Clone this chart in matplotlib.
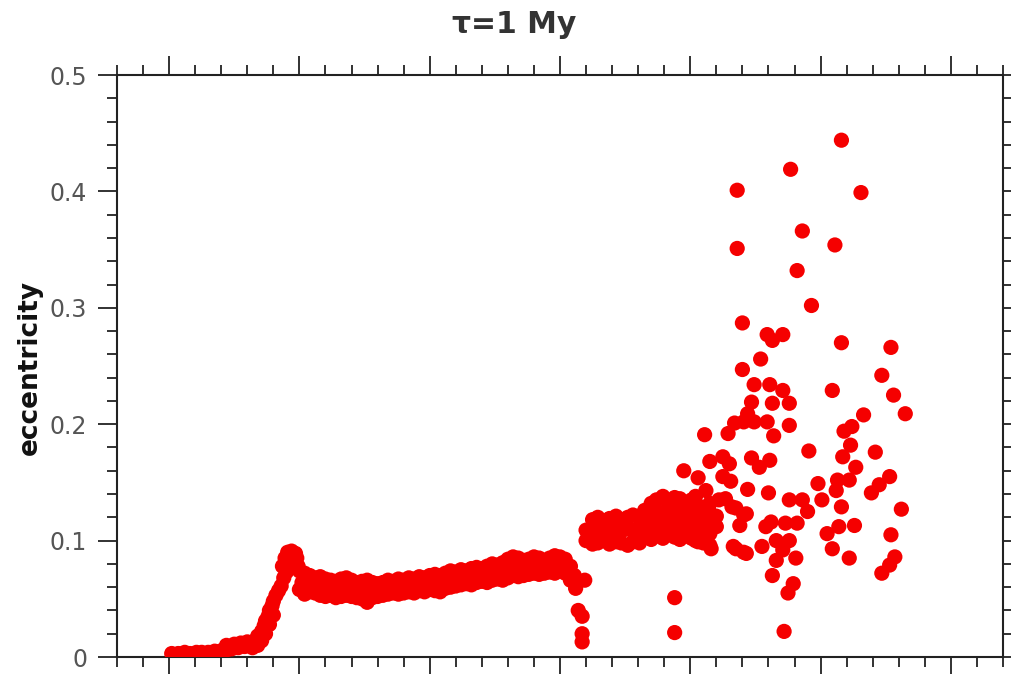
import matplotlib
matplotlib.use("Agg")
import matplotlib.pyplot as plt
from matplotlib.ticker import MultipleLocator, FuncFormatter

# ---- orbital eccentricity samples, grouped by region ----
# quiet inner region
low_x = [1.02, 1.07, 1.12, 1.16, 1.21, 1.25, 1.30, 1.35, 1.39, 1.44, 1.48, 1.53,
         1.58, 1.62, 1.44, 1.50, 1.55, 1.60]
low_e = [0.003, 0.003, 0.004, 0.003, 0.004, 0.004, 0.004, 0.005, 0.005, 0.006,
         0.007, 0.008, 0.009, 0.010, 0.010, 0.011, 0.012, 0.013]

# steep rise
rise_x = [1.64, 1.66, 1.68, 1.71, 1.73, 1.74, 1.76, 1.77, 1.79, 1.80, 1.82, 1.84,
          1.86, 1.68, 1.71, 1.74, 1.77, 1.80]
rise_e = [0.008, 0.014, 0.018, 0.022, 0.027, 0.031, 0.035, 0.040, 0.044, 0.048,
          0.053, 0.057, 0.061, 0.010, 0.014, 0.020, 0.028, 0.036]

# local peak
peak_x = [1.87, 1.89, 1.91, 1.94, 1.97, 1.98, 1.90, 1.93, 1.99, 1.88]
peak_e = [0.078, 0.085, 0.090, 0.091, 0.089, 0.085, 0.073, 0.079, 0.078, 0.068]

# slowly rising band
band_x = [2.00, 2.04, 2.08, 2.12, 2.16, 2.20, 2.24, 2.28, 2.32, 2.36, 2.40, 2.44,
          2.48, 2.52, 2.56, 2.60, 2.64, 2.68, 2.72, 2.76, 2.80, 2.84, 2.88, 2.92,
          2.96, 3.00, 3.04, 3.08, 3.12, 3.16, 3.20, 3.24, 3.28, 3.32, 3.36, 3.40,
          3.44, 3.48, 3.52, 3.56, 3.60, 3.64, 3.68, 3.72, 3.76, 3.80, 3.84, 3.88,
          3.92, 3.96, 4.00, 4.04]
band_top = [0.074, 0.072, 0.070, 0.068, 0.069, 0.067, 0.066, 0.065, 0.067, 0.068,
            0.066, 0.064, 0.065, 0.066, 0.064, 0.063, 0.064, 0.066, 0.065, 0.067,
            0.066, 0.068, 0.067, 0.069, 0.068, 0.070, 0.071, 0.070, 0.072, 0.074,
            0.073, 0.075, 0.074, 0.076, 0.077, 0.076, 0.078, 0.080, 0.079, 0.081,
            0.084, 0.086, 0.085, 0.083, 0.084, 0.086, 0.085, 0.083, 0.085, 0.087,
            0.086, 0.084]
band_bot = [0.058, 0.054, 0.056, 0.055, 0.053, 0.052, 0.053, 0.051, 0.052, 0.053,
            0.052, 0.051, 0.050, 0.047, 0.051, 0.052, 0.053, 0.054, 0.055, 0.054,
            0.055, 0.056, 0.055, 0.057, 0.056, 0.058, 0.057, 0.056, 0.059, 0.060,
            0.061, 0.062, 0.063, 0.062, 0.064, 0.065, 0.064, 0.066, 0.067, 0.066,
            0.068, 0.070, 0.069, 0.070, 0.071, 0.072, 0.071, 0.072, 0.073, 0.072,
            0.074, 0.072]
band_mid_x = [2.02, 2.10, 2.18, 2.26, 2.34, 2.42, 2.50, 2.58, 2.66, 2.74, 2.82,
              2.90, 2.98, 3.06, 3.14, 3.22, 3.30, 3.38, 3.46, 3.54, 3.62, 3.70,
              3.78, 3.86, 3.94, 4.02]
band_mid_e = [0.064, 0.062, 0.060, 0.059, 0.060, 0.058, 0.057, 0.058, 0.059, 0.060,
              0.061, 0.062, 0.063, 0.064, 0.066, 0.068, 0.069, 0.071, 0.072, 0.074,
              0.076, 0.077, 0.078, 0.078, 0.079, 0.079]

# sharp drop at the outer edge of the band
edge_x = [4.08, 4.08, 4.11, 4.12, 4.19, 4.14, 4.17, 4.17, 4.17]
edge_e = [0.078, 0.066, 0.070, 0.059, 0.066, 0.040, 0.035, 0.020, 0.013]

# crowded cluster beyond the gap
clus_x = [4.20, 4.25, 4.29, 4.34, 4.38, 4.43, 4.47, 4.52, 4.56, 4.61,
          4.20, 4.25, 4.29, 4.34, 4.38, 4.43, 4.47, 4.52, 4.56, 4.61,
          4.25, 4.29, 4.34, 4.38, 4.43, 4.47, 4.52, 4.56, 4.61,
          4.65, 4.70, 4.74, 4.79, 4.83, 4.88, 4.92, 4.97, 5.01, 5.06, 5.10, 5.15,
          4.65, 4.70, 4.74, 4.79, 4.83, 4.88, 4.92, 4.97, 5.01, 5.06, 5.10, 5.15,
          4.65, 4.70, 4.74, 4.79, 4.83, 4.88, 4.92, 4.97, 5.01, 5.06, 5.10, 5.15,
          4.65, 4.70, 4.74, 4.79, 4.83, 4.88, 4.92, 4.97, 5.01, 5.06, 5.10, 5.15]
clus_e = [0.100, 0.097, 0.098, 0.100, 0.097, 0.099, 0.098, 0.096, 0.099, 0.098,
          0.109, 0.108, 0.110, 0.107, 0.109, 0.111, 0.108, 0.110, 0.109, 0.112,
          0.118, 0.120, 0.117, 0.119, 0.121, 0.118, 0.120, 0.122, 0.121,
          0.126, 0.132, 0.135, 0.138, 0.134, 0.137, 0.136, 0.133, 0.135, 0.130, 0.128, 0.124,
          0.122, 0.124, 0.126, 0.123, 0.127, 0.125, 0.124, 0.126, 0.123, 0.121, 0.119, 0.116,
          0.114, 0.112, 0.115, 0.113, 0.116, 0.114, 0.112, 0.115, 0.113, 0.110, 0.109, 0.106,
          0.103, 0.101, 0.104, 0.102, 0.105, 0.103, 0.101, 0.104, 0.102, 0.099, 0.098, 0.096]

# scattered, dynamically excited outer population
scat_x = [6.16, 5.77, 5.36, 6.31, 5.86, 5.36, 6.11, 5.82, 5.93, 5.40, 5.59, 5.71,
          5.63, 6.16, 6.54, 5.54, 5.40, 6.47, 5.49, 5.61, 5.71, 6.09, 6.56, 5.47,
          5.63, 5.76, 6.65, 6.33, 5.44, 5.34, 5.49, 5.59, 5.76, 6.24, 6.18, 5.11,
          5.29, 5.64, 6.23, 5.91, 6.42, 5.15, 5.25, 5.30, 5.47, 5.61, 5.53, 6.17,
          6.27, 5.06, 5.25, 5.31, 5.98, 6.13, 6.22, 6.53, 6.45, 6.39, 5.44, 5.60,
          6.01, 6.12, 5.76, 5.86, 5.90, 6.16, 6.62, 5.04, 5.15, 5.22, 5.10, 5.20,
          5.32, 5.43, 5.38, 5.20, 5.62, 5.73, 5.82, 6.05, 6.14, 6.26, 6.54, 5.03,
          5.16, 5.35, 5.43, 5.55, 5.66, 5.71, 5.76, 6.09, 6.22, 5.66, 5.81, 6.57,
          6.53, 6.47, 5.63, 5.79, 5.75, 5.72, 4.88, 4.88, 4.95, 5.12, 5.27, 5.35,
          5.41, 5.33, 5.41, 5.58, 4.92, 5.04, 5.41]
scat_e = [0.444, 0.419, 0.401, 0.399, 0.366, 0.351, 0.354, 0.332, 0.302, 0.287,
          0.277, 0.277, 0.272, 0.270, 0.266, 0.256, 0.247, 0.242, 0.234, 0.234,
          0.229, 0.229, 0.225, 0.219, 0.218, 0.218, 0.209, 0.208, 0.209, 0.201,
          0.202, 0.202, 0.199, 0.198, 0.194, 0.191, 0.192, 0.190, 0.182, 0.177,
          0.176, 0.168, 0.172, 0.166, 0.171, 0.169, 0.163, 0.172, 0.163, 0.154,
          0.155, 0.151, 0.149, 0.152, 0.152, 0.155, 0.148, 0.141, 0.144, 0.141,
          0.135, 0.143, 0.135, 0.135, 0.125, 0.129, 0.127, 0.138, 0.132, 0.135,
          0.123, 0.121, 0.129, 0.123, 0.113, 0.112, 0.116, 0.115, 0.115, 0.106,
          0.112, 0.113, 0.105, 0.102, 0.093, 0.093, 0.089, 0.095, 0.100, 0.092,
          0.100, 0.093, 0.085, 0.083, 0.085, 0.086, 0.079, 0.072, 0.070, 0.063,
          0.055, 0.022, 0.051, 0.021, 0.160, 0.143, 0.136, 0.128, 0.122, 0.095,
          0.090, 0.112, 0.102, 0.100, 0.202]

xs = (low_x + rise_x + peak_x + band_x + band_x + band_mid_x + edge_x
      + clus_x + scat_x)
es = (low_e + rise_e + peak_e + band_top + band_bot + band_mid_e + edge_e
      + clus_e + scat_e)

fig = plt.figure(figsize=(10.12, 6.74), dpi=100)
ax = fig.add_axes([0.1156, 0.0252, 0.8755, 0.8635])

ax.scatter(xs, es, s=120, c="#f50000", edgecolors="none", zorder=3)

ax.set_xlim(0.6, 7.4)
ax.set_ylim(0.0, 0.5)

ax.xaxis.set_major_locator(MultipleLocator(1.0))
ax.xaxis.set_minor_locator(MultipleLocator(0.2))
ax.yaxis.set_major_locator(MultipleLocator(0.1))
ax.yaxis.set_minor_locator(MultipleLocator(0.02))
ax.yaxis.set_major_formatter(
    FuncFormatter(lambda v, _: "0" if abs(v) < 1e-9 else f"{v:.1f}"))

spine_color = "#222222"
for sp in ax.spines.values():
    sp.set_linewidth(1.5)
    sp.set_color(spine_color)

ax.tick_params(which="both", direction="out", top=True, right=True,
               bottom=True, left=True, labelbottom=False, labeltop=False,
               labelright=False, color=spine_color, width=1.3)
ax.tick_params(which="major", length=13.5)
ax.tick_params(which="minor", length=7.5)
ax.tick_params(axis="y", which="major", labelsize=17, labelcolor="#555555", pad=8)

fig.text(0.508, 0.963, "τ=1 My", ha="center", va="center",
         fontsize=21.5, fontweight="bold", color="#333333")
fig.text(0.030, 0.4555, "eccentricity", ha="center", va="center",
         rotation=90, fontsize=19, fontweight="bold", color="#111111")

fig.savefig("out.png", dpi=100)
